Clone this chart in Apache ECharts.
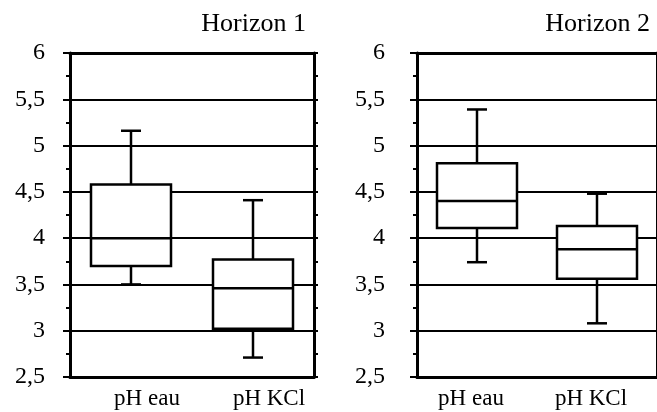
<!DOCTYPE html>
<html><head><meta charset="utf-8">
<script src="https://cdn.jsdelivr.net/npm/echarts@6/dist/echarts.min.js"></script>
<style>html,body{margin:0;padding:0;background:#fff}#c{width:657px;height:412px}</style>
</head><body><div id="c"></div>
<script>
const categories = ['pH eau', 'pH KCl'];
const panelTitles = ['Horizon 1', 'Horizon 2'];
const yTickLabels = ['2,5', '3', '3,5', '4', '4,5', '5', '5,5', '6'];
// each row: [low whisker, Q1, median, Q3, high whisker]
const horizon1 = [
  [3.50, 3.70, 4.00, 4.58, 5.16],
  [2.71, 3.02, 3.46, 3.77, 4.41]
];
const horizon2 = [
  [3.74, 4.11, 4.40, 4.81, 5.39],
  [3.08, 3.56, 3.88, 4.13, 4.48]
];

const FONT = 'Liberation Serif';
const chart = echarts.init(document.getElementById('c'));

function renderBox(params, api) {
  const i = api.value(0);
  const lo = api.coord([i, api.value(1)]);
  const q1 = api.coord([i, api.value(2)]);
  const md = api.coord([i, api.value(3)]);
  const q3 = api.coord([i, api.value(4)]);
  const hi = api.coord([i, api.value(5)]);
  const x = lo[0], bw = 80, cw = 20;
  const ls = {stroke: '#000', lineWidth: 2.5};
  return {type: 'group', children: [
    {type: 'line', shape: {x1: x, y1: hi[1], x2: x, y2: q3[1]}, style: ls},
    {type: 'line', shape: {x1: x, y1: q1[1], x2: x, y2: lo[1]}, style: ls},
    {type: 'line', shape: {x1: x - cw / 2, y1: hi[1], x2: x + cw / 2, y2: hi[1]}, style: ls},
    {type: 'line', shape: {x1: x - cw / 2, y1: lo[1], x2: x + cw / 2, y2: lo[1]}, style: ls},
    {type: 'rect', shape: {x: x - bw / 2, y: q3[1], width: bw, height: q1[1] - q3[1]},
      style: {fill: '#fff', stroke: '#000', lineWidth: 2.5}},
    {type: 'line', shape: {x1: x - bw / 2, y1: md[1], x2: x + bw / 2, y2: md[1]}, style: ls}
  ]};
}

const panels = [horizon1, horizon2];
const grids = [
  {left: 70, top: 53, width: 244, height: 324},
  {left: 417, top: 53, width: 242, height: 324}
];
const labelMargins = [25, 32];
const xLabelPadding = [[0, 0, 0, 32], [0, 12, 0, 0]];

const xAxes = [], yAxes = [], series = [];
panels.forEach((data, g) => {
  xAxes.push({
    type: 'category', gridIndex: g, data: categories, position: 'bottom',
    axisLine: {lineStyle: {color: '#000', width: 3}},
    axisTick: {alignWithLabel: true, length: 7, lineStyle: {color: '#000', width: 2.5}},
    axisLabel: {fontFamily: FONT, fontSize: 23, color: '#000', margin: 10, padding: xLabelPadding[g]},
    splitLine: {show: false}
  });
  xAxes.push({
    type: 'category', gridIndex: g, data: categories, position: 'top',
    axisLine: {lineStyle: {color: '#000', width: 3}},
    axisTick: {alignWithLabel: true, length: 8, lineStyle: {color: '#000', width: 2.5}},
    axisLabel: {show: false},
    splitLine: {show: false}
  });
  yAxes.push({
    type: 'value', gridIndex: g, min: 2.5, max: 6, interval: 0.5, position: 'left',
    axisLine: {show: true, lineStyle: {color: '#000', width: 3}},
    axisTick: {show: true, length: 7, lineStyle: {color: '#000', width: 2}},
    minorTick: {show: true, splitNumber: 2, length: 4, lineStyle: {color: '#000', width: 2}},
    splitLine: {show: true, lineStyle: {color: '#000', width: 2}},
    axisLabel: {fontFamily: FONT, fontSize: 24, color: '#000', margin: labelMargins[g],
      padding: [3, 0, 0, 0],
      formatter: v => yTickLabels[Math.round((v - 2.5) / 0.5)]}
  });
  yAxes.push({
    type: 'value', gridIndex: g, min: 2.5, max: 6, interval: 0.5, position: 'right',
    axisLine: {show: true, lineStyle: {color: '#000', width: 3}},
    axisTick: {show: true, length: 4, lineStyle: {color: '#000', width: 2}},
    minorTick: {show: true, splitNumber: 2, length: 4, lineStyle: {color: '#000', width: 2}},
    splitLine: {show: false},
    axisLabel: {show: false}
  });
  series.push({
    type: 'custom', name: panelTitles[g], xAxisIndex: g * 2, yAxisIndex: g * 2,
    renderItem: renderBox,
    encode: {x: 0, y: [1, 2, 3, 4, 5]},
    data: data.map((row, i) => [i].concat(row)),
    z: 5
  });
});

chart.setOption({
  backgroundColor: '#fff',
  animation: false,
  title: [
    {text: panelTitles[0], right: 657 - 306, top: 11, padding: 0,
      textStyle: {fontFamily: FONT, fontSize: 26, fontWeight: 'normal', color: '#000'}},
    {text: panelTitles[1], right: 7, top: 11, padding: 0,
      textStyle: {fontFamily: FONT, fontSize: 26, fontWeight: 'normal', color: '#000'}}
  ],
  grid: grids,
  xAxis: xAxes,
  yAxis: yAxes,
  series: series
});
</script>
</body></html>
